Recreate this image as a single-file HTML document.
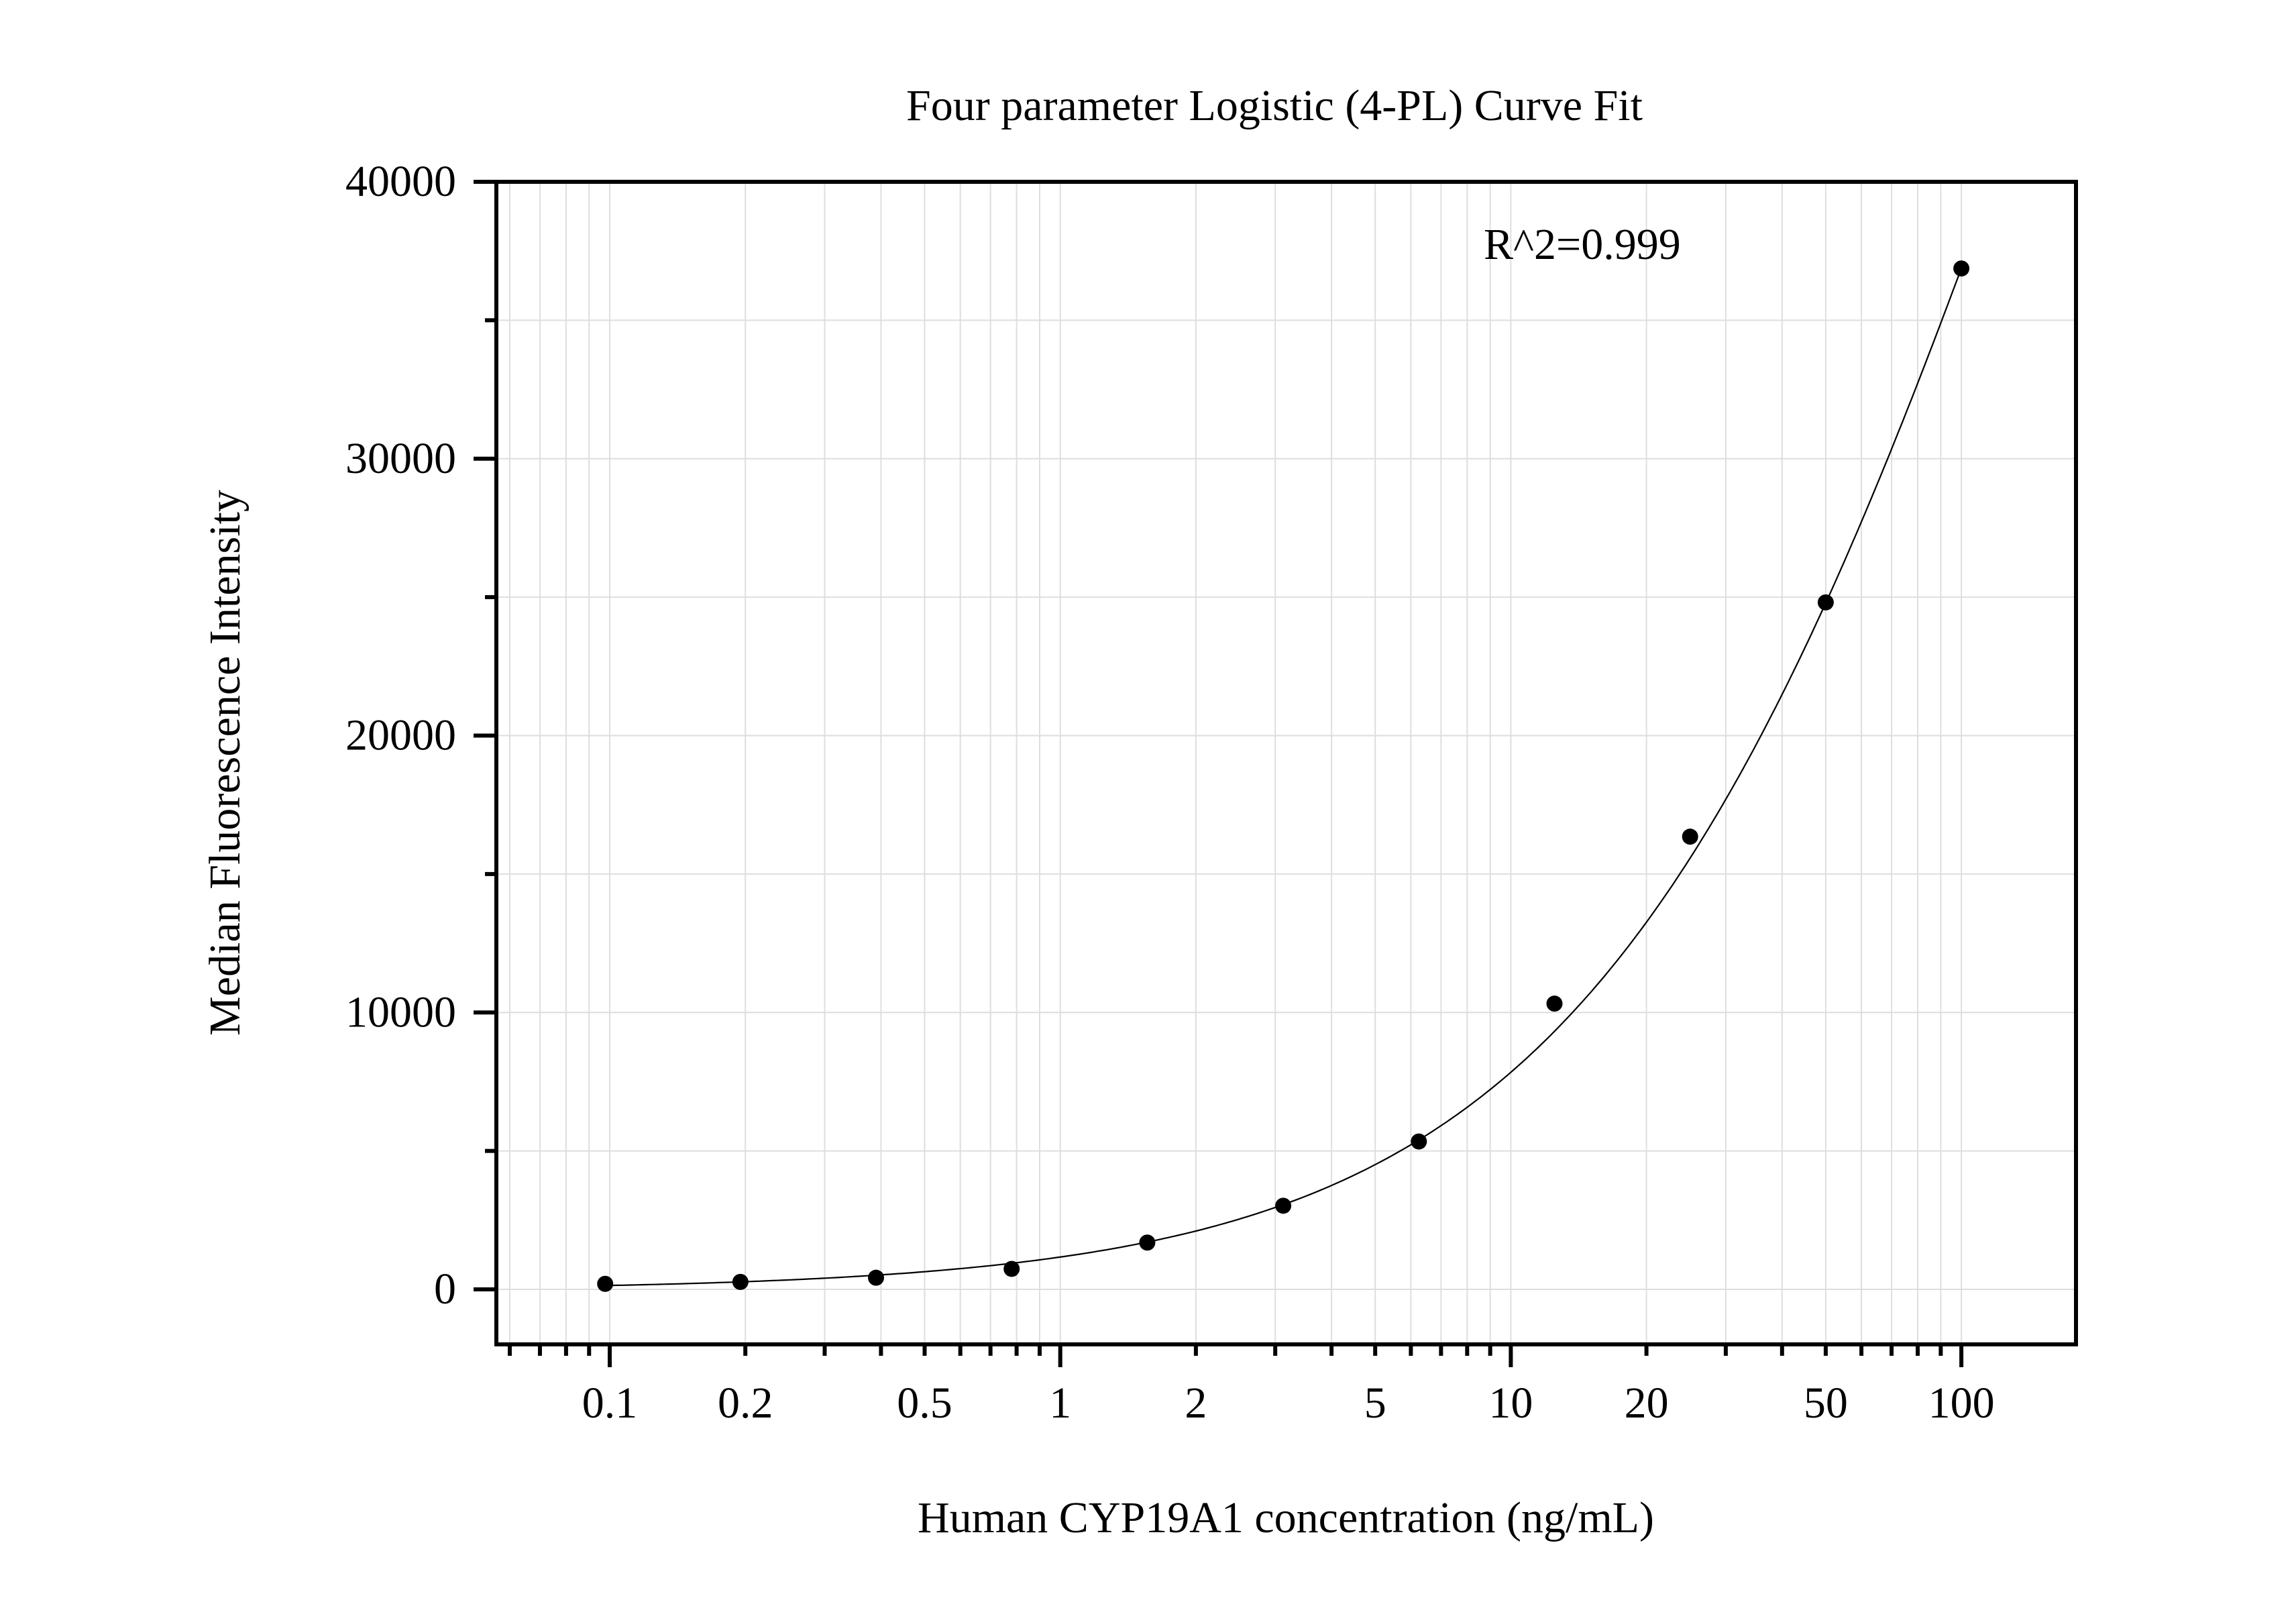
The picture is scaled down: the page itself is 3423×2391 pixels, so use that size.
<!DOCTYPE html>
<html><head><meta charset="utf-8"><style>
html,body{margin:0;padding:0;background:#fff;}
svg{display:block;font-family:"Liberation Serif",serif;}
</style></head><body>
<svg id="chart" width="3423" height="2391" viewBox="0 0 3423 2391" xmlns="http://www.w3.org/2000/svg">
<rect x="0" y="0" width="3423" height="2391" fill="#fff"/>
<g id="grid"></g>
<g id="curve"></g>
<g id="points"></g>
<g id="axes"></g>
<text x="1900" y="179" font-size="66" text-anchor="middle">Four parameter Logistic (4-PL) Curve Fit</text>
<text x="2212" y="386" font-size="66">R^2=0.999</text>
<text x="1917" y="2284" font-size="66" text-anchor="middle">Human CYP19A1 concentration (ng/mL)</text>
<text x="0" y="0" font-size="66" text-anchor="middle" transform="translate(357,1137) rotate(-90)">Median Fluorescence Intensity</text>
</svg>
<script>
const xValues = [0.0977, 0.195, 0.39, 0.78, 1.56, 3.125, 6.25, 12.5, 25, 50, 100];
const yValues = [200, 270, 420, 740, 1690, 3020, 5340, 10320, 16350, 24810, 36870];
const fitA = [-30];
const fitB = [0.85];
const fitC = [166.8];
const fitD = [93900];
const xTickValues = [0.1, 0.2, 0.5, 1, 2, 5, 10, 20, 50, 100];
const xTickLabels = ["0.1", "0.2", "0.5", "1", "2", "5", "10", "20", "50", "100"];
const yTickValues = [0, 10000, 20000, 30000, 40000];
const yTickLabels = ["0", "10000", "20000", "30000", "40000"];

const NS = "http://www.w3.org/2000/svg";
const L = 740, R = 3095, T = 271, B = 2004;
const X0 = 909, DEC = 671.7;
const Y0 = 1922, YS = (1922 - 271) / 40000;
function sx(v){ return X0 + (Math.log10(v) + 1) * DEC; }
function sy(v){ return Y0 - v * YS; }
function mk(tag, attrs, parent){
  const el = document.createElementNS(NS, tag);
  for (const k in attrs) el.setAttribute(k, attrs[k]);
  parent.appendChild(el);
  return el;
}
const grid = document.getElementById('grid');
const axes = document.getElementById('axes');
const minorX = [];
for (let e = -2; e <= 2; e++) for (let m = 1; m <= 9; m++) {
  const v = m * Math.pow(10, e);
  const px = sx(v);
  if (px > L + 2 && px < R - 2) minorX.push(v);
}
minorX.forEach(v => {
  const g = mk('line', {x1: sx(v), x2: sx(v), y1: T, y2: B, stroke: '#dedede', 'stroke-width': 2}, grid);
  
  
  const major = Math.abs(Math.log10(v) - Math.round(Math.log10(v))) < 1e-9;
  const t = mk('line', {x1: sx(v), x2: sx(v), y1: B, y2: B + (major ? 34 : 17), stroke: '#000', 'stroke-width': 6}, axes);
  
  
});
for (let v = -0; v <= 40000; v += 5000) {
  const g = mk('line', {x1: L, x2: R, y1: sy(v), y2: sy(v), stroke: '#dedede', 'stroke-width': 2}, grid);
  
  
  const major = v % 10000 === 0;
  const t = mk('line', {x1: L - (major ? 34 : 17), x2: L, y1: sy(v), y2: sy(v), stroke: '#000', 'stroke-width': 6}, axes);
  
  
}
xTickValues.forEach((v, i) => {
  const t = mk('text', {x: sx(v), y: 2113, 'font-size': 66, 'text-anchor': 'middle'}, axes);
  t.textContent = xTickLabels[i];
  
  
});
yTickValues.forEach((v, i) => {
  const t = mk('text', {x: 680, y: sy(v) + 21, 'font-size': 66, 'text-anchor': 'end'}, axes);
  t.textContent = yTickLabels[i];
  
  
});
const frame = mk('rect', {x: L, y: T, width: R - L, height: B - T, fill: 'none', stroke: '#000', 'stroke-width': 6}, axes);



function fit(x){ return fitD[0] + (fitA[0] - fitD[0]) / (1 + Math.pow(x / fitC[0], fitB[0])); }
let d = '';
const lo = Math.log10(xValues[0]), hi = Math.log10(xValues[xValues.length - 1]);
for (let i = 0; i <= 300; i++) {
  const x = Math.pow(10, lo + (hi - lo) * i / 300);
  d += (i ? 'L' : 'M') + sx(x).toFixed(1) + ',' + sy(fit(x)).toFixed(1);
}
const path = mk('path', {d: d, fill: 'none', stroke: '#000', 'stroke-width': 2.2}, document.getElementById('curve'));


const pts = document.getElementById('points');
xValues.forEach((x, i) => {
  const c = mk('circle', {cx: sx(x), cy: sy(yValues[i]), r: 12, fill: '#000'}, pts);
  
  
});
</script>
</body></html>
